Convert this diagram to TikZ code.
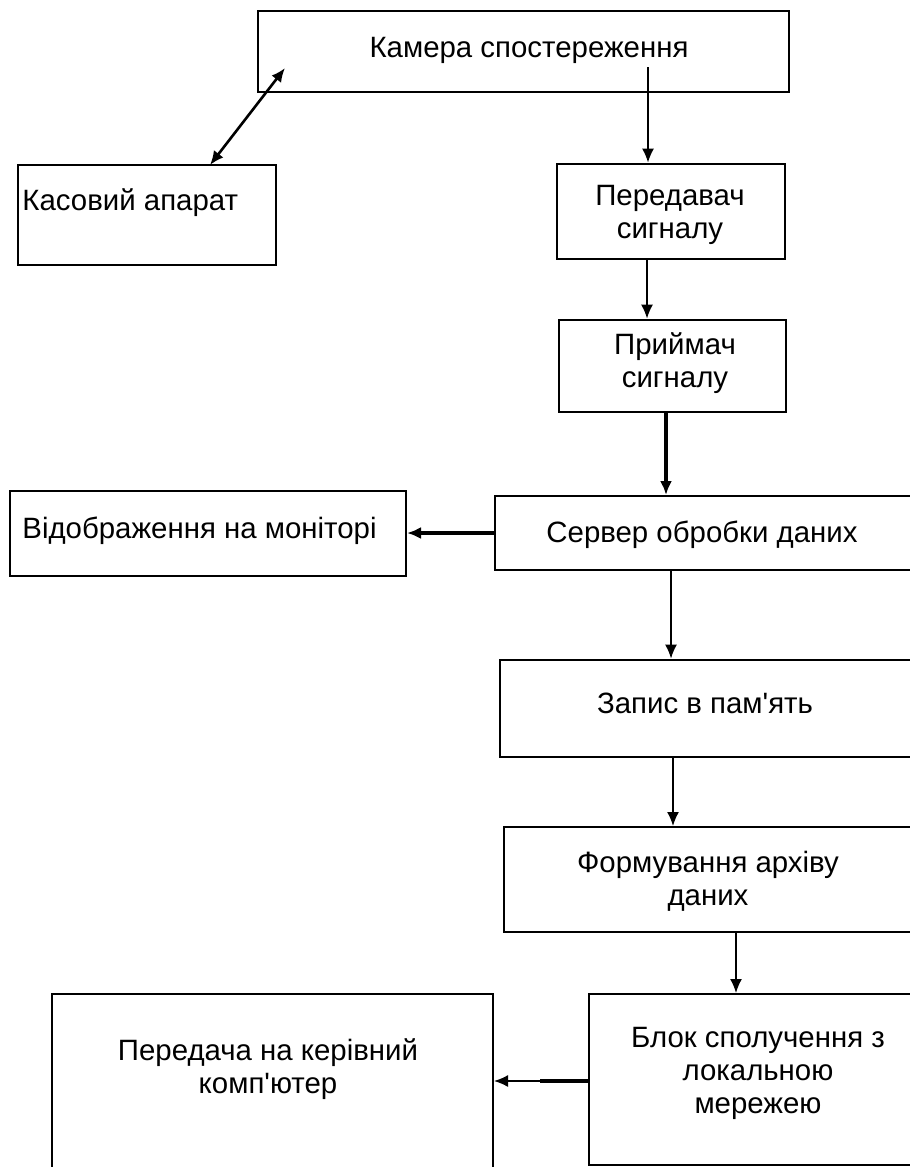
\documentclass[tikz,border=0pt]{standalone}
\usepackage{fontspec}
\setmainfont{Liberation Sans}
\usetikzlibrary{arrows.meta,fit}

\begin{document}
\begin{tikzpicture}[x=0.5pt,y=-0.5pt,
  box/.style={draw=black, line width=1.4pt, inner sep=0pt},
  thinbox/.style={box, line width=1pt},
  lbl/.style={font=\fontsize{14.7}{16.3}\selectfont, align=center, inner sep=0pt, anchor=base},
  arr/.style={line width=0.8pt, -{Latex[length=7pt,width=6pt]}},
  boldarr/.style={arr, line width=1.6pt},
]
\useasboundingbox (0,0) rectangle (910,1167);
\clip (0,0) rectangle (910,1167);
\fill[white] (0,0) rectangle (910,1167);

% blocks
\node[box, fit={(258,11) (789,92)}] (cam) {};
\node[box, fit={(18,165) (276,265)}] (kas) {};
\node[box, fit={(557,164) (785,259)}] (per) {};
\node[box, fit={(559,320) (786,412)}] (pri) {};
\node[thinbox, fit={(10,491) (406,576)}] (vid) {};
\node[thinbox, fit={(495,496) (925,570)}] (srv) {};
\node[box, fit={(500,660) (925,757)}] (zap) {};
\node[thinbox, fit={(504,827) (925,932)}] (form) {};
\node[thinbox, fit={(589,994) (930,1165)}] (blok) {};
\node[thinbox, fit={(52,994) (493,1185)}] (pc) {};

% labels (multi-line labels sit on the baseline of their last line)
\node[lbl] (cam-t) at (529,57) {Камера спостереження};
\node[lbl, anchor=base west] (kas-t) at (22,210) {Касовий апарат};
\node[lbl] (per-t) at (670,238) {Передавач\\сигналу};
\node[lbl] (pri-t) at (675,387) {Приймач\\сигналу};
\node[lbl, anchor=base west] (vid-t) at (22,538) {Відображення на моніторі};
\node[lbl] (srv-t) at (702,542) {Сервер обробки даних};
\node[lbl] (zap-t) at (705,713) {Запис в пам\textquotesingle ять};
\node[lbl] (form-t) at (708,905) {Формування архіву\\даних};
\node[lbl] (blok-t) at (758,1113) {Блок сполучення з\\локальною\\мережею};
\node[lbl] (pc-t) at (268,1093) {Передача на керівний\\комп\textquotesingle ютер};

% connectors
\coordinate (camout) at (648,67);
\coordinate (camin) at (285,68);
\coordinate (kasin) at (210,165);
\coordinate (blokmid) at (540,1081);

\draw[line width=1.3pt, {Latex[length=7pt,width=6pt]}-{Latex[length=7pt,width=6pt]}] (kasin) -- (camin);
\draw[arr] (camout) -- (camout |- per.north);
\draw[arr] (per.south -| 647,0) -- (pri.north -| 647,0);
\draw[boldarr] (pri.south -| 666,0) -- (srv.north -| 666,0);
\draw[boldarr] (srv.west |- 0,533) -- (vid.east |- 0,533);
\draw[arr] (srv.south -| 671,0) -- (zap.north -| 671,0);
\draw[arr] (zap.south -| 673,0) -- (form.north -| 673,0);
\draw[arr] (form.south -| 736,0) -- (blok.north -| 736,0);
\draw[line width=1.6pt] (blok.west |- blokmid) -- (blokmid);
\draw[arr] (blokmid) -- (pc.east |- blokmid);
\end{tikzpicture}
\end{document}
